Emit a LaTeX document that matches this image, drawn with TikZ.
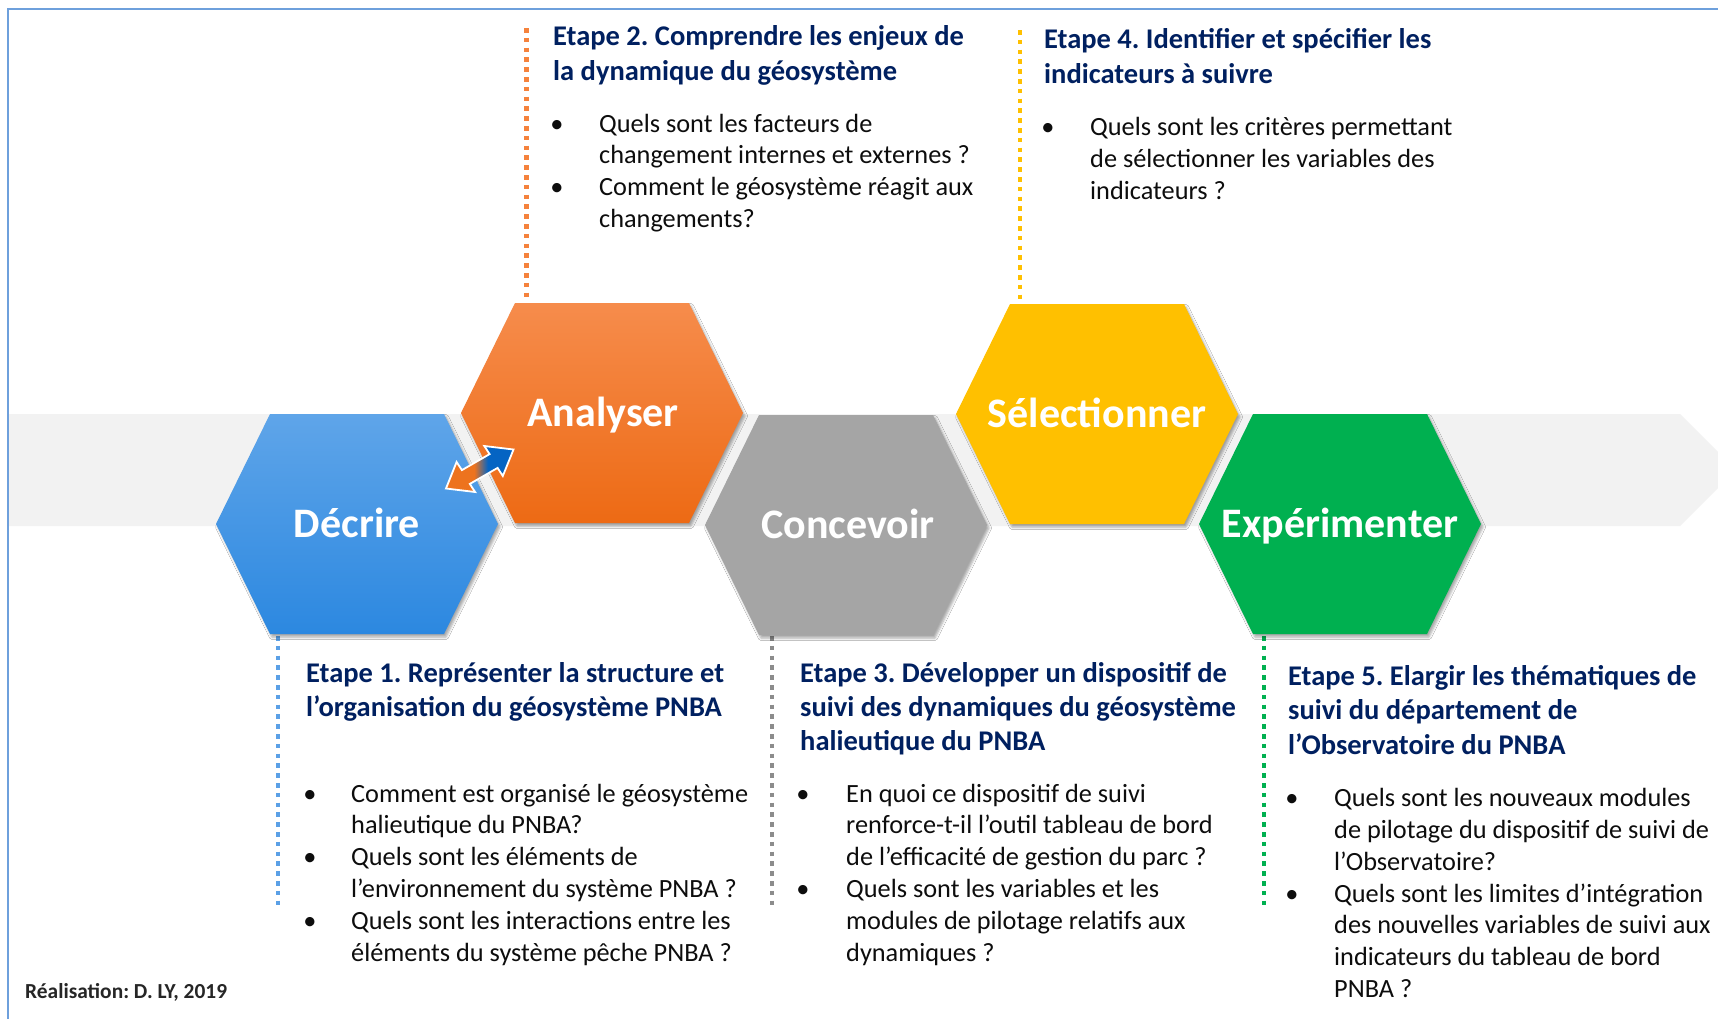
\documentclass[tikz,border=0pt]{standalone}
\usepackage{fontspec}
\setmainfont{Carlito}
\usetikzlibrary{shadows.blur}
\definecolor{navy}{RGB}{0,32,96}
\definecolor{bodytxt}{RGB}{13,13,13}
\definecolor{credit}{RGB}{38,38,38}
\definecolor{frameblue}{RGB}{110,160,220}
\definecolor{bandgray}{RGB}{242,242,242}
\definecolor{blueTop}{RGB}{95,165,233}
\definecolor{blueBot}{RGB}{44,136,224}
\definecolor{orTop}{RGB}{246,140,76}
\definecolor{orBot}{RGB}{237,106,20}
\definecolor{grayHex}{RGB}{165,165,165}
\definecolor{goldHex}{RGB}{255,192,0}
\definecolor{greenHex}{RGB}{0,176,80}
\definecolor{dotBlue}{RGB}{91,160,230}
\definecolor{dotOrange}{RGB}{245,130,60}
\definecolor{dotGray}{RGB}{140,140,140}
\definecolor{dotGold}{RGB}{255,192,0}
\definecolor{dotGreen}{RGB}{0,176,80}
\definecolor{arrOr}{RGB}{237,115,30}
\definecolor{arrBl}{RGB}{5,100,195}
\pgfdeclarehorizontalshading{dblarrow}{100bp}{color(0bp)=(arrOr); color(46bp)=(arrOr); color(56bp)=(arrBl); color(100bp)=(arrBl)}
\newcommand\hexa[3]{\path[hexshape,#3,shift={(#1,#2)}] (-141,0) -- (-87,-110) -- (87,-110) -- (141,0) -- (87,110) -- (-87,110) -- cycle;}
\tikzset{
  hexshape/.style={blur shadow={shadow xshift=2pt, shadow yshift=-3pt, shadow blur radius=2.5pt, shadow opacity=35}},
  hexlabel/.style={font=\fontsize{42}{50}\selectfont\bfseries, text=white, inner sep=0pt, text height=27pt, text depth=0pt},
  head/.style={anchor=base west, inner sep=0pt, font=\fontsize{28.5}{34}\selectfont\bfseries, text=navy},
  body/.style={anchor=base west, inner sep=0pt, font=\fontsize{26.3}{32}\selectfont, text=bodytxt},
  bul/.style={anchor=base, inner sep=0pt, font=\fontsize{26.3}{32}\selectfont, text=bodytxt},
  sqdots/.style={line width=4.6pt, dash pattern=on 4.6pt off 5.2pt},
}
\frenchspacing
\begin{document}
\begin{tikzpicture}[x=1pt,y=-1pt]
\clip (0,0) rectangle (1718,1018);
\fill[white] (0,0) rectangle (1718,1018);
% frame
\draw[frameblue, line width=2pt] (1730,9) -- (8,9) -- (8,1030);
% band arrow
\fill[bandgray] (9,414) -- (1680,414) -- (1736,470) -- (1680,526) -- (9,526) -- cycle;
% dotted connectors
\coordinate (o1) at (526.5,28);  \coordinate (o2) at (526.5,300);
\coordinate (y1) at (1020,30);   \coordinate (y2) at (1020,302);
\coordinate (b1) at (278,636);   \coordinate (b2) at (278,909);
\coordinate (g1) at (772,636);   \coordinate (g2) at (772,909);
\coordinate (v1) at (1264,636);  \coordinate (v2) at (1264,909);
\draw[sqdots, dotOrange] (o1) -- (o2);
\draw[sqdots, dotGold] (y1) -- (y2);
\draw[sqdots, dotBlue] (b1) -- (b2);
\draw[sqdots, dotGray] (g1) -- (g2);
\draw[sqdots, dotGreen] (v1) -- (v2);
% hexagons
\hexa{357}{524}{top color=blueTop, bottom color=blueBot}
\hexa{602}{413}{top color=orTop, bottom color=orBot}
\hexa{846}{525}{fill=grayHex}
\hexa{1097}{414}{fill=goldHex}
\hexa{1340}{524}{fill=greenHex}
\node[hexlabel] (decrire) at (357,524) {Décrire};
\node[hexlabel] (analyser) at (603,413) {Analyser};
\node[hexlabel] (concevoir) at (848,525) {Concevoir};
\node[hexlabel] (selectionner) at (1097,414) {Sélectionner};
\node[hexlabel] (experimenter) at (1340,524) {Expérimenter};
% double arrow
\shadedraw[shading=dblarrow, draw=white, line width=1.8pt, line join=miter]
  (513.5,449.5) -- (502.8,476.0) -- (497.6,467.9) -- (469.8,483.9) -- (475.1,492.0)
  -- (446.0,488.5) -- (456.6,462.0) -- (461.9,470.1) -- (489.6,454.1) -- (484.3,446.0) -- cycle;
% Etape 2
\foreach \t [count=\i] in {{Etape 2. Comprendre les enjeux de},{la dynamique du géosystème}}
  \node[head] (e2h\i) at (553,{45+35*(\i-1)}) {\t};
\foreach \t [count=\i] in {{Quels sont les facteurs de},{changement internes et externes ?},{Comment le géosystème réagit aux},{changements?}}
  \node[body] (e2b\i) at (599,{132+31.75*(\i-1)}) {\t};
\node[bul] (e2d1) at (557,132) {•};
\node[bul] (e2d2) at (557,195.5) {•};
% Etape 4
\foreach \t [count=\i] in {{Etape 4. Identifier et spécifier les},{indicateurs à suivre}}
  \node[head] (e4h\i) at (1044,{48.5+35*(\i-1)}) {\t};
\foreach \t [count=\i] in {{Quels sont les critères permettant},{de sélectionner les variables des},{indicateurs ?}}
  \node[body] (e4b\i) at (1090,{135.5+31.75*(\i-1)}) {\t};
\node[bul] (e4d1) at (1048,135.5) {•};
% Etape 1
\foreach \t [count=\i] in {{Etape 1. Représenter la structure et},{l’organisation du géosystème PNBA}}
  \node[head] (e1h\i) at (306,{682+34.3*(\i-1)}) {\t};
\foreach \t [count=\i] in {{Comment est organisé le géosystème},{halieutique du PNBA?},{Quels sont les éléments de},{l’environnement du système PNBA ?},{Quels sont les interactions entre les},{éléments du système pêche PNBA ?}}
  \node[body] (e1b\i) at (351,{802+31.9*(\i-1)}) {\t};
\node[bul] (e1d1) at (310,802) {•};
\node[bul] (e1d2) at (310,865.8) {•};
\node[bul] (e1d3) at (310,929.6) {•};
% Etape 3
\foreach \t [count=\i] in {{Etape 3. Développer un dispositif de},{suivi des dynamiques du géosystème},{halieutique du PNBA}}
  \node[head] (e3h\i) at (800,{682+34.3*(\i-1)}) {\t};
\foreach \t [count=\i] in {{En quoi ce dispositif de suivi},{renforce-t-il l’outil tableau de bord},{de l’efficacité de gestion du parc ?},{Quels sont les variables et les},{modules de pilotage relatifs aux},{dynamiques ?}}
  \node[body] (e3b\i) at (846,{802+31.9*(\i-1)}) {\t};
\node[bul] (e3d1) at (803,802) {•};
\node[bul] (e3d2) at (803,897.7) {•};
% Etape 5
\foreach \t [count=\i] in {{Etape 5. Elargir les thématiques de},{suivi du département de},{l’Observatoire du PNBA}}
  \node[head] (e5h\i) at (1288,{685+34.5*(\i-1)}) {\t};
\foreach \t [count=\i] in {{Quels sont les nouveaux modules},{de pilotage du dispositif de suivi de},{l’Observatoire?},{Quels sont les limites d’intégration},{des nouvelles variables de suivi aux},{indicateurs du tableau de bord},{PNBA ?}}
  \node[body] (e5b\i) at (1334,{806.7+31.8*(\i-1)}) {\t};
\node[bul] (e5d1) at (1292,806.7) {•};
\node[bul] (e5d2) at (1292,902.1) {•};
% credit
\node[anchor=base west, inner sep=0pt, font=\fontsize{21.4}{26}\selectfont\bfseries, text=credit] (credit) at (25,998) {Réalisation: D. LY, 2019};
\end{tikzpicture}
\end{document}
